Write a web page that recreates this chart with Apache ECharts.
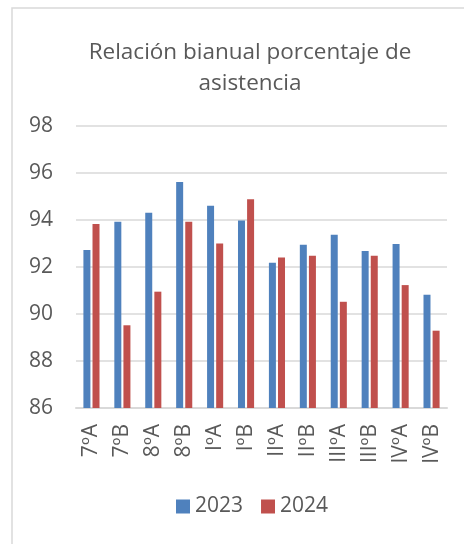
<!DOCTYPE html>
<html>
<head>
<meta charset="utf-8">
<script src="https://cdn.jsdelivr.net/npm/echarts@6/dist/echarts.min.js"></script>
<style>
  html, body { margin: 0; padding: 0; background: #fff; }
  #chart { width: 464px; height: 544px; }
</style>
</head>
<body>
<div id="chart"></div>
<script>
  var categories = ['7ºA', '7ºB', '8ºA', '8ºB', 'IºA', 'IºB', 'IIºA', 'IIºB', 'IIIºA', 'IIIºB', 'IVºA', 'IVºB'];
  var data2023 = [92.72, 93.93, 94.31, 95.62, 94.61, 93.98, 92.18, 92.95, 93.37, 92.68, 92.98, 90.82];
  var data2024 = [93.83, 89.52, 90.95, 93.93, 93.0, 94.88, 92.4, 92.48, 90.52, 92.48, 91.23, 89.29];
  var yTicks = [86, 88, 90, 92, 94, 96, 98];

  var textColor = '#595959';
  var fontFamily = 'Open Sans';

  var myChart = echarts.init(document.getElementById('chart'));
  var option = {
    animation: false,
    textStyle: { fontFamily: fontFamily },
    graphic: [{
      type: 'rect',
      shape: { x: 12, y: 8, width: 470, height: 560 },
      style: { fill: 'none', stroke: '#d9d9d9', lineWidth: 1.5 },
      silent: true
    }],
    title: {
      text: 'Relación bianual porcentaje de\nasistencia',
      left: 245,
      textAlign: 'center',
      top: 32,
      textStyle: {
        color: textColor,
        fontFamily: fontFamily,
        fontSize: 22.5,
        fontWeight: 'normal',
        lineHeight: 31
      }
    },
    legend: {
      data: ['2023', '2024'],
      bottom: 22,
      left: 171,
      itemWidth: 14,
      itemHeight: 14,
      itemGap: 18,
      icon: 'rect',
      textStyle: { color: textColor, fontSize: 21, fontFamily: fontFamily }
    },
    grid: {
      left: 76,
      right: 17,
      top: 126,
      bottom: 136
    },
    xAxis: {
      type: 'category',
      data: categories,
      axisLine: { lineStyle: { color: '#d9d9d9', width: 2 } },
      axisTick: { show: false },
      axisLabel: {
        rotate: 90,
        interval: 0,
        margin: 16,
        color: textColor,
        fontSize: 21,
        fontFamily: fontFamily
      }
    },
    yAxis: {
      type: 'value',
      min: yTicks[0],
      max: yTicks[yTicks.length - 1],
      interval: 2,
      axisLine: { show: false },
      axisTick: { show: false },
      splitLine: { lineStyle: { color: '#d9d9d9', width: 1.5 } },
      axisLabel: {
        margin: 23,
        color: textColor,
        fontSize: 21
      }
    },
    series: [
      {
        name: '2023',
        type: 'bar',
        barWidth: 7,
        barGap: '30%',
        itemStyle: { color: '#4F81BD' },
        data: data2023
      },
      {
        name: '2024',
        type: 'bar',
        barWidth: 7,
        barGap: '30%',
        itemStyle: { color: '#C0504D' },
        data: data2024
      }
    ]
  };
  myChart.setOption(option);
</script>
</body>
</html>
